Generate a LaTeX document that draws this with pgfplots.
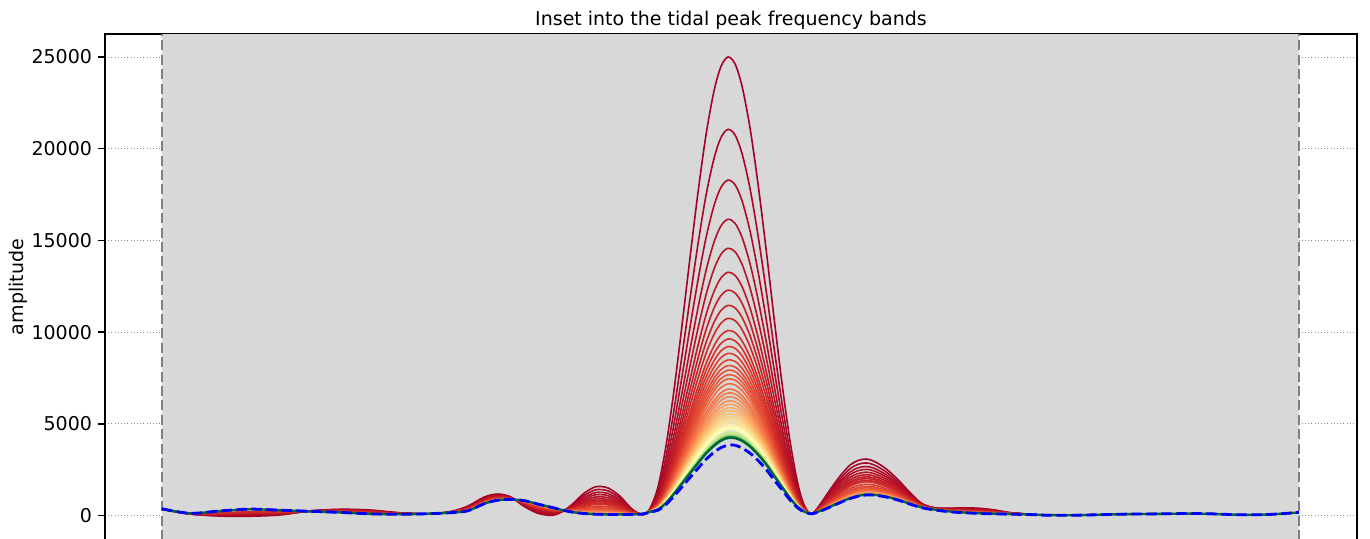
\documentclass[border=0pt]{standalone}
\usepackage{fontspec}
\setmainfont{DejaVu Sans}
\usepackage{pgfplots}
\pgfplotsset{compat=1.18}
\definecolor{c1}{RGB}{165,0,38}
\definecolor{c2}{RGB}{170,5,38}
\definecolor{c3}{RGB}{175,10,38}
\definecolor{c4}{RGB}{180,15,38}
\definecolor{c5}{RGB}{185,19,38}
\definecolor{c6}{RGB}{190,24,38}
\definecolor{c7}{RGB}{195,29,39}
\definecolor{c8}{RGB}{200,34,39}
\definecolor{c9}{RGB}{205,39,39}
\definecolor{c10}{RGB}{210,44,39}
\definecolor{c11}{RGB}{215,48,39}
\definecolor{c12}{RGB}{218,55,42}
\definecolor{c13}{RGB}{221,61,45}
\definecolor{c14}{RGB}{224,67,48}
\definecolor{c15}{RGB}{227,73,50}
\definecolor{c16}{RGB}{230,80,54}
\definecolor{c17}{RGB}{233,86,56}
\definecolor{c18}{RGB}{236,92,59}
\definecolor{c20}{RGB}{242,104,65}
\definecolor{c21}{RGB}{244,110,68}
\definecolor{c23}{RGB}{246,123,74}
\definecolor{c24}{RGB}{247,130,77}
\definecolor{c26}{RGB}{249,143,83}
\definecolor{c28}{RGB}{251,156,89}
\definecolor{c30}{RGB}{252,169,95}
\definecolor{c32}{RGB}{253,181,102}
\definecolor{c35}{RGB}{253,196,115}
\definecolor{c37}{RGB}{254,205,123}
\definecolor{c40}{RGB}{254,221,136}
\definecolor{c42}{RGB}{254,225,141}
\definecolor{c45}{RGB}{254,237,162}
\definecolor{c48}{RGB}{255,248,177}
\definecolor{c51}{RGB}{255,255,190}
\definecolor{c55}{RGB}{238,248,167}
\definecolor{c63}{RGB}{204,233,130}
\definecolor{c72}{RGB}{155,212,105}
\definecolor{c82}{RGB}{88,182,96}
\definecolor{c91}{RGB}{24,148,78}
\definecolor{c100}{RGB}{0,104,55}
\definecolor{spanfill}{RGB}{216,216,216}
\definecolor{vline}{RGB}{128,128,128}
\definecolor{gridc}{RGB}{140,140,140}
\tikzset{cmline/.style={line width=0.8pt, smooth}}
\begin{document}
\begin{tikzpicture}
\begin{axis}[
  set layers=standard,
  at={(52.5pt,-1pt)}, anchor=south west,
  scale only axis, width=626pt, height=253pt,
  xmin=105, xmax=1357, ymin=-1336, ymax=26254,
  xtick=\empty,
  ytick={0,5000,10000,15000,20000,25000},
  ytick pos=left,
  tick align=outside,
  major tick length=3.3pt,
  every tick/.style={black, line width=0.75pt},
  axis line style={black, line width=0.75pt},
  ymajorgrids,
  grid style={draw=gridc, line width=0.45pt, dash pattern=on 0.5pt off 1.1pt},
  scaled y ticks=false,
  /pgf/number format/assume math mode=true,
  yticklabel style={/pgf/number format/fixed, /pgf/number format/1000 sep={}, font=\fontsize{9.5}{11}\selectfont, inner sep=0pt, xshift=-3pt},
  title={Inset into the tidal peak frequency bands},
  title style={font=\fontsize{9.5}{11}\selectfont, at={(0.5,1)}, anchor=base, yshift=-1.5pt, inner sep=0pt},
  ylabel={amplitude},
  every axis y label/.style={at={(axis description cs:0,0.5)}, xshift=-40.5pt, rotate=90, anchor=base, inner sep=0pt, font=\fontsize{9.5}{11}\selectfont},
]
\fill[on layer=axis background, spanfill] (axis cs:162,-1336) rectangle (axis cs:1299,26254);
\draw[vline, line width=0.9pt, dash pattern=on 5pt off 2.2pt] (axis cs:162,-1336) -- (axis cs:162,26254);
\draw[vline, line width=0.9pt, dash pattern=on 5pt off 2.2pt] (axis cs:1299,-1336) -- (axis cs:1299,26254);

\addplot[c1, cmline] coordinates {(162,350)(190,80)(220,-30)(250,-40)(280,30)(310,250)(340,340)(370,300)(400,150)(430,90)
(452,230)(468,520)(484,1000)(497,1170)(510,1030)(524,500)(538,120)(552,10)(562,200)(572,600)(584,1210)(596,1570)(608,1500)(620,1050)(632,350)(643,40)
(650,385)(658,1560)(666,3795)(674,6830)(682,10365)(690,14058)(698,17613)(706,20754)(714,23145)(721,24488)(728,25000)(735,24628)(742,23415)(750,21134)(758,18083)(766,14558)(774,10795)(782,7200)(790,4065)(798,1680)(805,467)(812,100)
(820,600)(830,1400)(840,2150)(850,2750)(858,3000)(866,3080)(874,2960)(886,2550)(898,1950)(910,1250)(922,650)(935,420)(950,400)(965,420)(980,390)(995,300)(1010,160)(1030,70)};

\addplot[c2, cmline] coordinates {(162,350)(190,84)(220,0)(250,2)(280,59)(310,247)(340,321)(370,277)(400,141)(430,91)
(452,222)(468,491)(484,960)(497,1133)(510,1014)(524,534)(538,175)(552,57)(562,211)(572,555)(584,1089)(596,1405)(608,1342)(620,941)(632,318)(643,47)
(650,350)(658,1326)(666,3203)(674,5757)(682,8726)(690,11824)(698,14808)(706,17453)(714,19469)(721,20610)(728,21054)(735,20750)(742,19739)(750,17833)(758,15278)(766,12324)(774,9156)(782,6127)(790,3473)(798,1446)(805,416)(812,100)
(820,562)(830,1299)(840,1993)(850,2551)(858,2788)(866,2867)(874,2759)(886,2383)(898,1830)(910,1183)(922,627)(935,409)(950,380)(965,391)(980,360)(995,278)(1010,151)(1030,69)};

\addplot[c3, cmline] coordinates {(162,350)(190,88)(220,27)(250,40)(280,85)(310,244)(340,304)(370,256)(400,133)(430,92)
(452,215)(468,465)(484,924)(497,1099)(510,999)(524,565)(538,225)(552,100)(562,221)(572,514)(584,979)(596,1255)(608,1198)(620,842)(632,289)(643,53)
(650,325)(658,1163)(666,2789)(674,5005)(682,7579)(690,10260)(698,12845)(706,15142)(714,16897)(721,17896)(728,18291)(735,18036)(742,17167)(750,15522)(758,13315)(766,10760)(774,8009)(782,5375)(790,3059)(798,1283)(805,381)(812,100)
(820,527)(830,1207)(840,1850)(850,2370)(858,2595)(866,2673)(874,2576)(886,2231)(898,1721)(910,1122)(922,606)(935,399)(950,362)(965,365)(980,333)(995,258)(1010,143)(1030,68)};

\addplot[c4, cmline] coordinates {(162,350)(190,92)(220,48)(250,70)(280,105)(310,241)(340,291)(370,239)(400,127)(430,93)
(452,210)(468,445)(484,896)(497,1071)(510,987)(524,590)(538,265)(552,135)(562,229)(572,481)(584,891)(596,1135)(608,1082)(620,763)(632,266)(643,57)
(650,306)(658,1036)(666,2468)(674,4423)(682,6691)(690,9049)(698,11324)(706,13353)(714,14904)(721,15794)(728,16152)(735,15934)(742,15174)(750,13733)(758,11794)(766,9549)(774,7121)(782,4793)(790,2738)(798,1156)(805,353)(812,100)
(820,499)(830,1133)(840,1735)(850,2225)(858,2440)(866,2517)(874,2429)(886,2109)(898,1634)(910,1073)(922,589)(935,391)(950,348)(965,345)(980,312)(995,242)(1010,137)(1030,67)};

\addplot[c5, cmline] coordinates {(162,350)(190,95)(220,70)(250,101)(280,126)(310,239)(340,277)(370,222)(400,120)(430,94)
(452,204)(468,424)(484,867)(497,1044)(510,975)(524,615)(538,305)(552,169)(562,237)(572,448)(584,803)(596,1015)(608,967)(620,684)(632,243)(643,62)
(650,292)(658,943)(666,2231)(674,3994)(682,6035)(690,8155)(698,10202)(706,12032)(714,13434)(721,14243)(728,14573)(735,14383)(742,13704)(750,12412)(758,10672)(766,8655)(774,6465)(782,4364)(790,2501)(798,1063)(805,333)(812,100)
(820,471)(830,1060)(840,1621)(850,2080)(858,2286)(866,2362)(874,2283)(886,1988)(898,1547)(910,1024)(922,572)(935,383)(950,333)(965,324)(980,290)(995,226)(1010,130)(1030,66)};

\addplot[c6, cmline] coordinates {(162,350)(190,98)(220,89)(250,127)(280,144)(310,237)(340,265)(370,208)(400,115)(430,94)
(452,199)(468,406)(484,842)(497,1020)(510,964)(524,636)(538,340)(552,199)(562,244)(572,420)(584,726)(596,910)(608,866)(620,614)(632,222)(643,66)
(650,280)(658,865)(666,2035)(674,3638)(682,5492)(690,7415)(698,9272)(706,10938)(714,12215)(721,12957)(728,13265)(735,13097)(742,12485)(750,11318)(758,9742)(766,7915)(774,5922)(782,4008)(790,2305)(798,985)(805,316)(812,100)
(820,446)(830,995)(840,1521)(850,1954)(858,2151)(866,2226)(874,2155)(886,1881)(898,1470)(910,982)(922,558)(935,376)(950,321)(965,306)(980,271)(995,212)(1010,125)(1030,66)};

\addplot[c7, cmline] coordinates {(162,350)(190,100)(220,105)(250,150)(280,160)(310,235)(340,255)(370,195)(400,110)(430,95)
(452,195)(468,390)(484,820)(497,1000)(510,955)(524,655)(538,370)(552,225)(562,250)(572,395)(584,660)(596,820)(608,780)(620,555)(632,205)(643,70)
(650,272)(658,807)(666,1889)(674,3372)(682,5087)(690,6862)(698,8578)(706,10121)(714,11306)(721,11998)(728,12289)(735,12138)(742,11576)(750,10501)(758,9048)(766,7362)(774,5517)(782,3742)(790,2159)(798,927)(805,304)(812,100)
(820,425)(830,940)(840,1435)(850,1845)(858,2035)(866,2110)(874,2045)(886,1790)(898,1405)(910,945)(922,545)(935,370)(950,310)(965,290)(980,255)(995,200)(1010,120)(1030,65)};

\addplot[c8, cmline] coordinates {(162,350)(190,102)(220,118)(250,169)(280,173)(310,234)(340,247)(370,185)(400,106)(430,95)
(452,192)(468,377)(484,802)(497,983)(510,948)(524,670)(538,395)(552,246)(562,255)(572,375)(584,605)(596,745)(608,708)(620,506)(632,191)(643,73)
(650,264)(658,758)(666,1764)(674,3146)(682,4742)(690,6392)(698,7988)(706,9426)(714,10532)(721,11182)(728,11458)(735,11322)(742,10802)(750,9806)(758,8458)(766,6892)(774,5172)(782,3516)(790,2034)(798,878)(805,293)(812,100)
(820,408)(830,894)(840,1364)(850,1755)(858,1939)(866,2013)(874,1954)(886,1714)(898,1351)(910,915)(922,535)(935,365)(950,301)(965,277)(980,242)(995,190)(1010,116)(1030,65)};

\addplot[c9, cmline] coordinates {(162,350)(190,104)(220,132)(250,188)(280,186)(310,232)(340,238)(370,174)(400,102)(430,96)
(452,188)(468,364)(484,784)(497,966)(510,940)(524,686)(538,420)(552,268)(562,260)(572,354)(584,550)(596,670)(608,636)(620,456)(632,176)(643,76)
(650,258)(658,716)(666,1658)(674,2954)(682,4448)(690,5992)(698,7486)(706,8835)(714,9874)(721,10488)(728,10752)(735,10628)(742,10144)(750,9215)(758,7956)(766,6492)(774,4878)(782,3324)(790,1928)(798,836)(805,284)(812,100)
(820,390)(830,848)(840,1292)(850,1664)(858,1842)(866,1916)(874,1862)(886,1638)(898,1296)(910,884)(922,524)(935,360)(950,292)(965,264)(980,228)(995,180)(1010,112)(1030,64)};

\addplot[c10, cmline] coordinates {(162,350)(190,106)(220,143)(250,203)(280,196)(310,231)(340,231)(370,166)(400,99)(430,96)
(452,185)(468,354)(484,770)(497,952)(510,934)(524,698)(538,440)(552,285)(562,264)(572,338)(584,506)(596,610)(608,578)(620,416)(632,164)(643,78)
(650,252)(658,677)(666,1558)(674,2773)(682,4172)(690,5616)(698,7013)(706,8279)(714,9255)(721,9835)(728,10087)(735,9975)(742,9525)(750,8659)(758,7483)(766,6116)(774,4602)(782,3143)(790,1828)(798,797)(805,275)(812,100)
(820,376)(830,811)(840,1235)(850,1592)(858,1765)(866,1838)(874,1789)(886,1577)(898,1252)(910,860)(922,516)(935,356)(950,285)(965,254)(980,217)(995,172)(1010,109)(1030,64)};

\addplot[c11, cmline] coordinates {(643,80)(650,248)(658,650)(666,1490)(674,2649)(682,3983)(690,5357)(698,6688)(706,7897)(714,8830)(721,9386)(728,9630)(735,9526)(742,9100)(750,8277)(758,7158)(766,5857)(774,4413)(782,3019)(790,1760)(798,770)(805,269)(812,100)};

\addplot[c12, cmline] coordinates {(430,100)(452,180)(468,335)(484,744)(497,929)(510,924)(524,720)(538,475)(552,315)(562,271)(572,309)(584,429)(596,505)(608,478)(620,347)(632,144)(643,83)
(650,244)(658,625)(666,1428)(674,2536)(682,3810)(690,5122)(698,6393)(706,7550)(714,8443)(721,8978)(728,9215)(735,9118)(742,8713)(750,7930)(758,6863)(766,5622)(774,4240)(782,2906)(790,1698)(798,745)(805,264)(812,100)
(820,352)(830,747)(840,1135)(850,1465)(858,1630)(866,1703)(874,1661)(886,1471)(898,1176)(910,817)(922,501)(935,349)(950,272)(965,235)(980,198)(995,158)(1010,103)(1030,63)};

\addplot[c13, cmline] coordinates {(643,85)(650,241)(658,603)(666,1372)(674,2434)(682,3655)(690,4910)(698,6127)(706,7237)(714,8095)(721,8611)(728,8841)(735,8751)(742,8365)(750,7617)(758,6597)(766,5410)(774,4085)(782,2804)(790,1642)(798,723)(805,259)(812,100)};

\addplot[c14, cmline] coordinates {(430,100)(452,176)(468,320)(484,723)(497,908)(510,915)(524,739)(538,505)(552,341)(562,277)(572,284)(584,363)(596,415)(608,391)(620,288)(632,127)(643,86)
(650,238)(658,582)(666,1319)(674,2338)(682,3508)(690,4710)(698,5876)(706,6942)(714,7766)(721,8264)(728,8488)(735,8404)(742,8036)(750,7322)(758,6346)(766,5210)(774,3938)(782,2708)(790,1589)(798,702)(805,255)(812,100)
(820,331)(830,692)(840,1049)(850,1356)(858,1514)(866,1586)(874,1551)(886,1380)(898,1111)(910,780)(922,488)(935,343)(950,261)(965,220)(980,182)(995,146)(1010,98)(1030,62)};

\addplot[c15, cmline] coordinates {(643,88)(650,235)(658,564)(666,1272)(674,2254)(682,3379)(690,4534)(698,5655)(706,6681)(714,7476)(721,7958)(728,8176)(735,8098)(742,7746)(750,7061)(758,6125)(766,5034)(774,3809)(782,2624)(790,1542)(798,684)(805,251)(812,100)};

\addplot[c16, cmline] coordinates {(430,100)(452,173)(468,309)(484,708)(497,895)(510,909)(524,751)(538,525)(552,358)(562,281)(572,268)(584,319)(596,355)(608,334)(620,248)(632,115)(643,89)
(650,233)(658,549)(666,1234)(674,2186)(682,3275)(690,4393)(698,5478)(706,6473)(714,7243)(721,7713)(728,7927)(735,7853)(742,7513)(750,6853)(758,5948)(766,4893)(774,3705)(782,2556)(790,1504)(798,669)(805,248)(812,100)
(820,317)(830,655)(840,992)(850,1284)(858,1437)(866,1509)(874,1478)(886,1319)(898,1067)(910,756)(922,480)(935,339)(950,254)(965,209)(980,171)(995,138)(1010,95)(1030,62)};

\addplot[c17, cmline] coordinates {(643,90)(650,231)(658,534)(666,1197)(674,2118)(682,3172)(690,4252)(698,5301)(706,6264)(714,7011)(721,7468)(728,7678)(735,7608)(742,7281)(750,6644)(758,5771)(766,4752)(774,3602)(782,2488)(790,1467)(798,654)(805,244)(812,100)};

\addplot[c18, cmline] coordinates {(430,100)(452,171)(468,299)(484,694)(497,881)(510,903)(524,763)(538,545)(552,375)(562,285)(572,252)(584,275)(596,295)(608,276)(620,209)(632,104)(643,91)
(650,229)(658,521)(666,1163)(674,2056)(682,3077)(690,4122)(698,5138)(706,6073)(714,6798)(721,7243)(728,7449)(735,7383)(742,7068)(750,6453)(758,5608)(766,4622)(774,3507)(782,2426)(790,1433)(798,641)(805,241)(812,100)
(820,303)(830,618)(840,935)(850,1212)(858,1360)(866,1431)(874,1405)(886,1258)(898,1024)(910,732)(922,472)(935,335)(950,247)(965,199)(980,161)(995,130)(1010,92)(1030,62)};

\addplot[c20, cmline] coordinates {(643,92)(650,226)(658,505)(666,1122)(674,1982)(682,2965)(690,3970)(698,4946)(706,5847)(714,6547)(721,6978)(728,7179)(735,7118)(742,6817)(750,6227)(758,5416)(766,4470)(774,3395)(782,2352)(790,1392)(798,625)(805,238)(812,100)};

\addplot[c21, cmline] coordinates {(430,100)(452,168)(468,289)(484,680)(497,867)(510,897)(524,776)(538,565)(552,393)(562,289)(572,235)(584,231)(596,235)(608,218)(620,169)(632,92)(643,93)
(650,224)(658,487)(666,1079)(674,1903)(682,2844)(690,3805)(698,4740)(706,5604)(714,6276)(721,6692)(728,6889)(735,6832)(742,6546)(750,5984)(758,5210)(766,4305)(774,3274)(782,2273)(790,1349)(798,607)(805,234)(812,100)
(820,289)(830,581)(840,877)(850,1139)(858,1282)(866,1353)(874,1331)(886,1197)(898,980)(910,707)(922,463)(935,331)(950,240)(965,189)(980,150)(995,122)(1010,89)(1030,61)};

\addplot[c23, cmline] coordinates {(643,94)(650,222)(658,475)(666,1048)(674,1847)(682,2758)(690,3687)(698,4592)(706,5430)(714,6083)(721,6488)(728,6681)(735,6628)(742,6353)(750,5810)(758,5062)(766,4187)(774,3188)(782,2217)(790,1318)(798,595)(805,232)(812,100)};

\addplot[c24, cmline] coordinates {(430,100)(452,166)(468,281)(484,669)(497,857)(510,892)(524,785)(538,580)(552,406)(562,292)(572,223)(584,198)(596,190)(608,175)(620,139)(632,83)(643,95)
(650,220)(658,463)(666,1016)(674,1790)(682,2672)(690,3570)(698,4444)(706,5256)(714,5889)(721,6284)(728,6473)(735,6424)(742,6159)(750,5636)(758,4914)(766,4070)(774,3102)(782,2160)(790,1286)(798,583)(805,229)(812,100)
(820,278)(830,554)(840,834)(850,1085)(858,1224)(866,1295)(874,1276)(886,1152)(898,947)(910,689)(922,457)(935,328)(950,234)(965,181)(980,142)(995,116)(1010,86)(1030,61)};

\addplot[c26, cmline] coordinates {(643,96)(650,218)(658,449)(666,982)(674,1728)(682,2577)(690,3441)(698,4282)(706,5065)(714,5676)(721,6060)(728,6245)(735,6200)(742,5946)(750,5445)(758,4752)(766,3941)(774,3007)(782,2098)(790,1252)(798,569)(805,226)(812,100)};

\addplot[c28, cmline] coordinates {(430,100)(452,164)(468,276)(484,662)(497,850)(510,889)(524,791)(538,590)(552,414)(562,294)(572,215)(584,176)(596,160)(608,146)(620,119)(632,77)(643,96)
(650,216)(658,438)(666,954)(674,1677)(682,2499)(690,3335)(698,4149)(706,4909)(714,5502)(721,5876)(728,6058)(735,6016)(742,5772)(750,5289)(758,4619)(766,3835)(774,2929)(782,2047)(790,1224)(798,558)(805,223)(812,100)
(820,271)(830,535)(840,806)(850,1049)(858,1186)(866,1256)(874,1240)(886,1121)(898,925)(910,677)(922,453)(935,326)(950,231)(965,176)(980,136)(995,112)(1010,85)(1030,61)};

\addplot[c30, cmline] coordinates {(643,98)(650,215)(658,427)(666,926)(674,1626)(682,2421)(690,3229)(698,4016)(706,4753)(714,5328)(721,5692)(728,5871)(735,5832)(742,5598)(750,5133)(758,4486)(766,3729)(774,2851)(782,1996)(790,1196)(798,547)(805,221)(812,100)};
\addplot[c32, cmline] coordinates {(643,100)(650,213)(658,417)(666,901)(674,1581)(682,2352)(690,3135)(698,3898)(706,4614)(714,5173)(721,5529)(728,5705)(735,5669)(742,5443)(750,4994)(758,4368)(766,3635)(774,2782)(782,1951)(790,1171)(798,537)(805,219)(812,100)};
\addplot[c35, cmline] coordinates {(643,100)(650,212)(658,407)(666,876)(674,1536)(682,2283)(690,3041)(698,3780)(706,4475)(714,5019)(721,5366)(728,5539)(735,5506)(742,5289)(750,4855)(758,4250)(766,3541)(774,2713)(782,1906)(790,1146)(798,527)(805,217)(812,100)};
\addplot[c37, cmline] coordinates {(643,100)(650,210)(658,399)(666,854)(674,1496)(682,2223)(690,2958)(698,3677)(706,4353)(714,4883)(721,5223)(728,5393)(735,5363)(742,5153)(750,4733)(758,4147)(766,3458)(774,2653)(782,1866)(790,1124)(798,519)(805,215)(812,100)};
\addplot[c40, cmline] coordinates {(643,100)(650,209)(658,390)(666,833)(674,1457)(682,2163)(690,2876)(698,3573)(706,4231)(714,4748)(721,5080)(728,5248)(735,5220)(742,5018)(750,4611)(758,4043)(766,3376)(774,2593)(782,1827)(790,1103)(798,510)(805,213)(812,100)};
\addplot[c42, cmline] coordinates {(643,100)(650,208)(658,383)(666,814)(674,1423)(682,2111)(690,2806)(698,3485)(706,4127)(714,4632)(721,4958)(728,5123)(735,5098)(742,4902)(750,4507)(758,3955)(766,3306)(774,2541)(782,1793)(790,1084)(798,503)(805,211)(812,100)};
\addplot[c45, cmline] coordinates {(643,100)(650,207)(658,374)(666,792)(674,1383)(682,2051)(690,2723)(698,3381)(706,4005)(714,4496)(721,4815)(728,4978)(735,4955)(742,4766)(750,4385)(758,3851)(766,3223)(774,2481)(782,1753)(790,1062)(798,494)(805,210)(812,100)};
\addplot[c48, cmline] coordinates {(643,100)(650,206)(658,368)(666,777)(674,1355)(682,2007)(690,2664)(698,3308)(706,3919)(714,4400)(721,4713)(728,4874)(735,4853)(742,4670)(750,4299)(758,3778)(766,3164)(774,2437)(782,1725)(790,1047)(798,488)(805,208)(812,100)};
\addplot[c51, cmline] coordinates {(643,100)(650,205)(658,362)(666,761)(674,1327)(682,1964)(690,2606)(698,3234)(706,3832)(714,4303)(721,4611)(728,4770)(735,4751)(742,4573)(750,4212)(758,3704)(766,3106)(774,2394)(782,1697)(790,1031)(798,482)(805,207)(812,100)};
\addplot[c55, cmline] coordinates {(643,100)(650,204)(658,356)(666,745)(674,1299)(682,1921)(690,2547)(698,3160)(706,3745)(714,4206)(721,4509)(728,4666)(735,4649)(742,4476)(750,4125)(758,3630)(766,3047)(774,2351)(782,1669)(790,1015)(798,476)(805,206)(812,100)};
\addplot[c63, cmline] coordinates {(643,100)(650,202)(658,346)(666,720)(674,1253)(682,1852)(690,2453)(698,3042)(706,3606)(714,4051)(721,4345)(728,4500)(735,4485)(742,4321)(750,3986)(758,3512)(766,2953)(774,2282)(782,1623)(790,990)(798,466)(805,203)(812,100)};
\addplot[c72, cmline] coordinates {(643,100)(650,201)(658,339)(666,702)(674,1220)(682,1800)(690,2382)(698,2953)(706,3502)(714,3935)(721,4223)(728,4375)(735,4363)(742,4205)(750,3882)(758,3423)(766,2882)(774,2230)(782,1590)(790,972)(798,459)(805,202)(812,100)};
\addplot[c82, line width=0.9pt, smooth] coordinates {(643,100)(650,201)(658,334)(666,689)(674,1197)(682,1766)(690,2335)(698,2894)(706,3432)(714,3858)(721,4141)(728,4292)(735,4281)(742,4128)(750,3812)(758,3364)(766,2835)(774,2196)(782,1567)(790,959)(798,454)(805,201)(812,100)};
\addplot[c91, line width=1pt, smooth] coordinates {(643,100)(650,200)(658,332)(666,685)(674,1188)(682,1753)(690,2318)(698,2872)(706,3406)(714,3829)(721,4111)(728,4261)(735,4251)(742,4099)(750,3786)(758,3342)(766,2818)(774,2183)(782,1558)(790,955)(798,452)(805,200)(812,100)};

\addplot[c100, line width=1.2pt, smooth] coordinates {(162,350)(190,120)(220,240)(250,340)(280,290)(310,220)(340,170)(370,90)(400,70)(430,100)
(452,160)(468,260)(484,640)(497,830)(510,880)(524,810)(538,620)(552,440)(562,300)(572,190)(584,110)(596,70)(608,60)(620,60)(632,60)(643,100)
(650,200)(658,330)(666,680)(674,1180)(682,1740)(690,2300)(698,2850)(706,3380)(714,3800)(721,4080)(728,4230)(735,4220)(742,4070)(750,3760)(758,3320)(766,2800)(774,2170)(782,1550)(790,950)(798,450)(805,200)(812,100)
(820,250)(830,480)(840,720)(850,940)(858,1070)(866,1140)(874,1130)(886,1030)(898,860)(910,640)(922,440)(935,320)(950,220)(965,160)(980,120)(995,100)(1010,80)(1030,60)
(1050,20)(1080,20)(1120,70)(1160,90)(1200,100)(1240,40)(1270,60)(1299,170)};

\addplot[blue, line width=1.4pt, dash pattern=on 5.2pt off 2.3pt, smooth] coordinates {(162,370)(190,120)(220,250)(250,350)(280,290)(310,230)(340,170)(370,90)(400,70)(430,100)
(452,160)(468,260)(484,640)(497,830)(510,880)(524,810)(538,620)(552,440)(562,300)(572,190)(584,110)(596,70)(608,60)(620,60)(632,60)(643,80)
(650,180)(658,290)(666,600)(674,1060)(682,1560)(690,2070)(698,2570)(706,3060)(714,3450)(721,3700)(728,3840)(735,3830)(742,3680)(750,3400)(758,3000)(766,2520)(774,1950)(782,1400)(790,850)(798,400)(805,180)(812,90)
(820,230)(830,460)(840,700)(850,920)(858,1050)(866,1120)(874,1110)(886,1010)(898,840)(910,620)(922,420)(935,300)(950,200)(965,150)(980,110)(995,90)(1010,70)(1030,50)
(1050,10)(1080,20)(1120,70)(1160,90)(1200,110)(1240,40)(1270,60)(1299,170)};
\end{axis}
\pgfresetboundingbox
\path[use as bounding box] (0,0) rectangle (685pt,269pt);
\end{tikzpicture}
\end{document}
